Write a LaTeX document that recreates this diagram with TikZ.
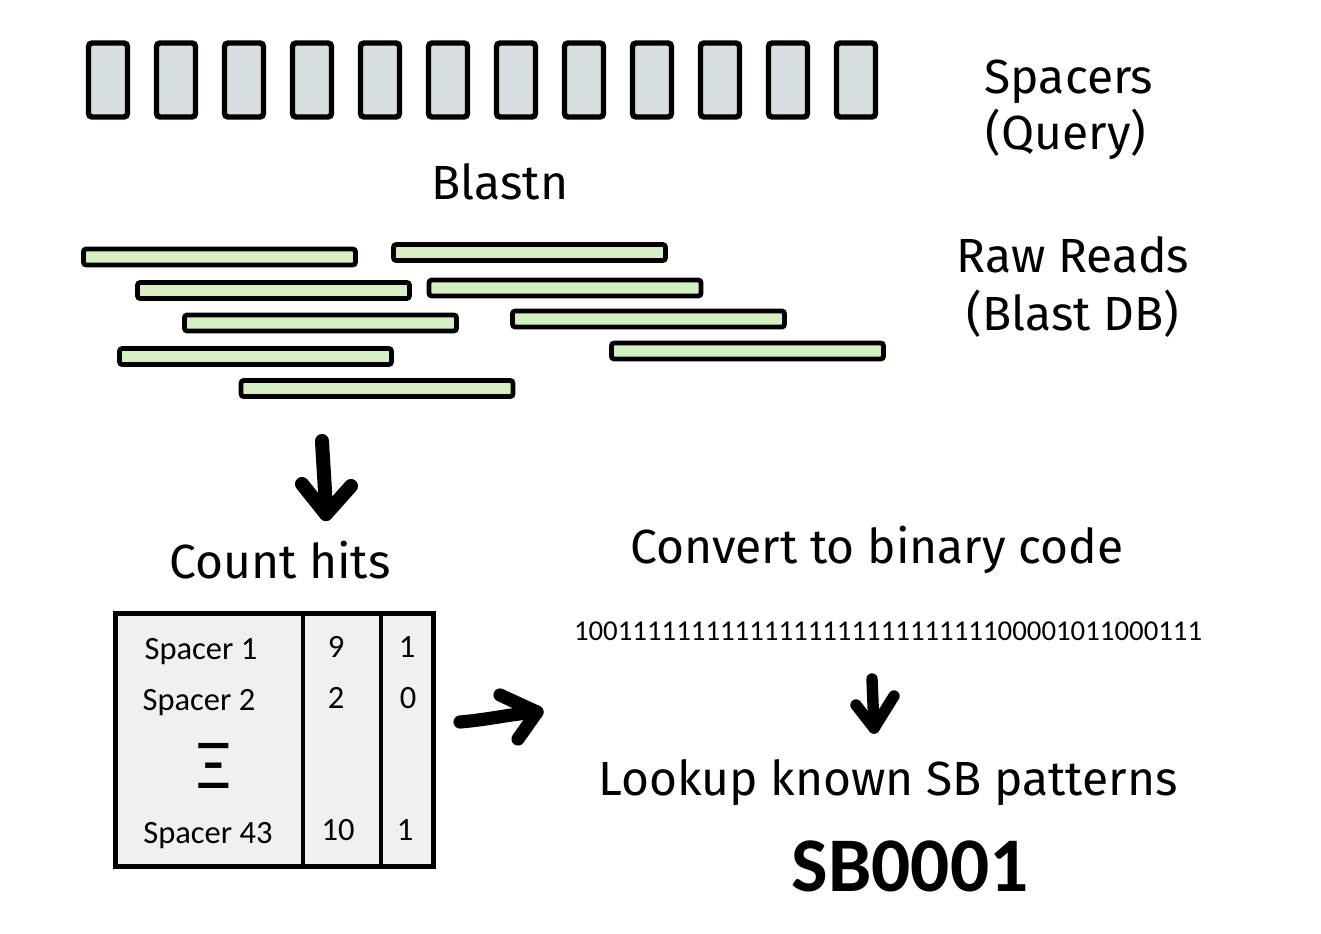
\documentclass[tikz,border=0pt]{standalone}
\usepackage{fontspec}
\setmainfont{Fira Sans}
\newfontfamily\calfont{Carlito}
\usepackage{tikz}
\usetikzlibrary{positioning}
\definecolor{spacergrey}{RGB}{216,223,227}
\definecolor{readgreen}{RGB}{213,239,194}
\definecolor{tablegrey}{RGB}{240,240,240}
\tikzstyle{spacer} = [rectangle, draw, line width=3.1pt, fill=spacergrey, rounded corners=2pt, minimum width=0.78cm, minimum height=1.48cm, inner sep=0pt]
\tikzstyle{readbar} = [rectangle, draw, line width=2.7pt, fill=readgreen, rounded corners=1.5pt, minimum width=5.44cm, minimum height=0.32cm, inner sep=0pt]
\tikzstyle{heading} = [font=\fontsize{27.3}{33}\selectfont, anchor=base, inner sep=0pt]
\tikzstyle{cell} = [font=\calfont\fontsize{18.5}{22}\selectfont, anchor=base, inner sep=0pt]
\tikzstyle{handarrow} = [line width=8pt, line cap=round, line join=round]

\begin{document}
\begin{tikzpicture}[x=0.02cm, y=-0.02cm]
    \useasboundingbox (0,0) rectangle (1321,933);

    % Spacers (query)
    \foreach \i in {1,...,12}
        \node [spacer] (sp\i) at ({108+68*(\i-1)},80) {};
    \node [heading] (spacers) at (1069,93) {Spacers};
    \node [heading] (query) at (1066,149) {(Query)};
    \node [heading] (blastn) at (500,199) {Blastn};

    % Raw reads
    \foreach \n/\x/\y in {1/219.5/257, 2/529.5/252.5, 3/273.5/290.5, 4/565/288, 5/320.5/323,
                          6/648.5/319, 7/255.5/356.5, 8/747.5/351, 9/377/388.5}
        \node [readbar] (rd\n) at (\x,\y) {};
    \node [heading] (rawreads) at (1073,272) {Raw Reads};
    \node [heading] (blastdb) at (1073,330) {(Blast DB)};

    % Hit counts
    \coordinate (a1s) at (322,441);
    \coordinate (a1e) at (326,514);
    \draw [handarrow] (a1s) to[out=-87,in=92] (a1e);
    \draw [handarrow] (a1e) ++(-24,-30) -- (a1e) -- ++(25,-28);
    \node [heading] (count) at (280,578) {Count hits};

    \node [rectangle, draw, line width=2.8pt, fill=tablegrey, minimum width=6.36cm, minimum height=5.06cm, inner sep=0pt] (counts) at (274.5,740) {};
    \coordinate (d1) at (303,0);
    \coordinate (d2) at (381,0);
    \draw [line width=2.8pt] (counts.north -| d1) -- (counts.south -| d1);
    \draw [line width=2.8pt] (counts.north -| d2) -- (counts.south -| d2);
    \node [cell] (sp1lbl) at (201,659) {Spacer 1};
    \node [cell] (sp2lbl) at (199,710) {Spacer 2};
    \node [cell, font=\calfont\fontsize{40}{44}\selectfont] (dots) at (214,788) {Ξ};
    \node [cell] (sp43lbl) at (208,843) {Spacer 43};
    \node [cell] (hit1) at (336,657) {9};
    \node [cell] (hit2) at (336,708) {2};
    \node [cell] (hit43) at (338,840) {10};
    \node [cell] (bit1) at (407,657) {1};
    \node [cell] (bit2) at (408,708) {0};
    \node [cell] (bit43) at (405,840) {1};

    % Binary code and lookup
    \coordinate (a2s) at (460,722);
    \coordinate (a2e) at (537,712);
    \draw [handarrow, line width=7.5pt] (a2s) to[out=5,in=185] (a2e);
    \draw [handarrow, line width=7.5pt] (a2e) ++(-37,-17) -- (a2e) -- ++(-19,27);
    \node [heading] (convert) at (877,563) {Convert to binary code};
    \node [cell, font=\calfont\fontsize{16.4}{20}\selectfont] (binary) at (888,640)
        {100{1111111111}{1111111111}{111111}00001011000111};
    \coordinate (a3s) at (872,679);
    \coordinate (a3e) at (874,728);
    \draw [handarrow, line width=6.5pt] (a3s) -- (a3e);
    \draw [handarrow, line width=6.5pt] (a3e) ++(-18,-23) -- (a3e) -- ++(20,-32);
    \node [heading] (lookup) at (888,795) {Lookup known SB patterns};
    \node [cell, font=\calfont\bfseries\fontsize{44}{50}\selectfont] (sbcode) at (910,891) {SB0001};
\end{tikzpicture}
\end{document}
